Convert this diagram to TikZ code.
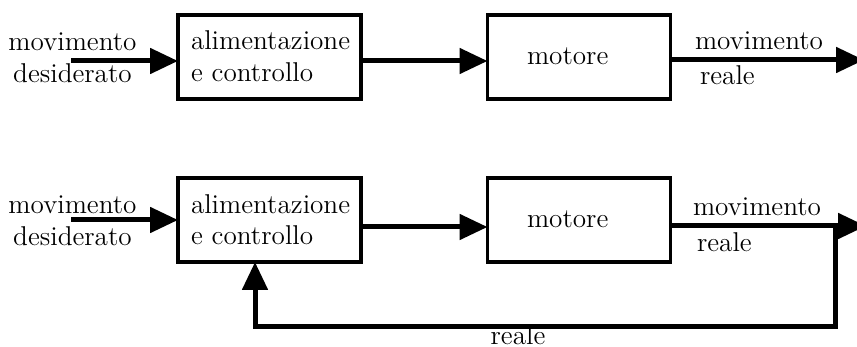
\documentclass[tikz,border=0pt]{standalone}
\usetikzlibrary{arrows.meta}
\begin{document}
\begin{tikzpicture}[x=0.5pt,y=-0.5pt,
  every node/.style={inner sep=0pt,outer sep=0pt,font=\fontsize{13.6}{15.8}\selectfont},
  blockbox/.style={draw,line width=1.7pt,minimum width=91.5pt,minimum height=42pt},
  arr/.style={line width=2.5pt,-{Triangle[length=14pt,width=12.5pt]}},
  lin/.style={line width=2.5pt}]
\useasboundingbox (0,0) rectangle (857,347);
% ---------- top row ----------
\node[blockbox] (a1) at (269.5,57) {};
\node[blockbox] (a2) at (579,57) {};
\node[align=left,anchor=west] (ta1) at (191,56.5) {alimentazione\\e controllo};
\node[anchor=base west] (ta2) at (527,65) {motore};
\node[align=center] (ina) at (72.5,57.5) {movimento\\desiderato};
\coordinate (sa) at (71,61);
\coordinate (ea) at (864,60);
\draw[arr] (sa) -- (sa -| a1.west);
\draw[arr] ([yshift=-2pt]a1.east) -- ([yshift=-2pt]a2.west);
\draw[arr] (a2.east |- ea) -- (ea);
\node[anchor=base west] (oa1) at (695,50) {movimento};
\node[anchor=base west] (oa2) at (700,85) {reale};
% ---------- bottom row ----------
\node[blockbox] (b1) at (269.5,220) {};
\node[blockbox] (b2) at (579,220) {};
\node[align=left,anchor=west] (tb1) at (191,219.5) {alimentazione\\e controllo};
\node[anchor=base west] (tb2) at (527,228) {motore};
\node[align=center] (inb) at (72.5,220.5) {movimento\\desiderato};
\coordinate (sb) at (71,220);
\coordinate (eb) at (866,226);
\draw[arr] (sb) -- (sb -| b1.west);
\draw[arr] ([yshift=-3.5pt]b1.east) -- ([yshift=-3.5pt]b2.west);
\draw[arr] (b2.east |- eb) -- (eb);
\node[anchor=base west] (ob1) at (693,216) {movimento};
\node[anchor=base west] (ob2) at (697,252) {reale};
% feedback
\coordinate (fb) at (835,226);
\coordinate (fc) at (255,327);
\draw[arr] (fb) |- (fc) -- (fc |- b1.south);
\node[anchor=base] (fr) at (518,344) {reale};
\end{tikzpicture}
\end{document}
